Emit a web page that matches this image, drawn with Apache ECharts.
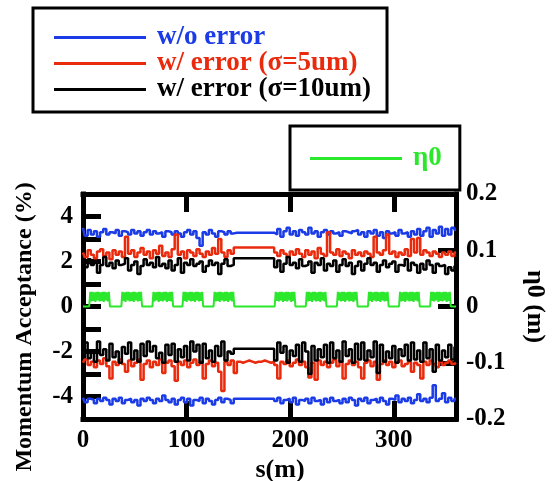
<!DOCTYPE html>
<html>
<head>
<meta charset="utf-8">
<script src="https://cdn.jsdelivr.net/npm/echarts@6/dist/echarts.min.js"></script>
<style>
html,body{margin:0;padding:0;background:#fff;}
#c{width:556px;height:481px;}
</style>
</head>
<body>
<div id="c"></div>
<script>
// sample positions s (m)
const sPos = [
  0,3,6,9,12,15,18,21,24,27,
  30,33,36,39,42,45,48,51,54,57,
  60,63,66,69,72,75,78,81,84,87,
  90,93,96,99,102,105,108,111,114,117,
  120,123,126,129,132,135,138,141,144,147,
  150,153,156,159,162,165,168,171,174,177,
  180,183,186,189,192,195,198,201,204,207,
  210,213,216,219,222,225,228,231,234,237,
  240,243,246,249,252,255,258,261,264,267,
  270,273,276,279,282,285,288,291,294,297,
  300,303,306,309,312,315,318,321,324,327,
  330,333,336,339,342,345,348,351,354,357,
  360
];
// w/o error : positive and negative momentum acceptance (%)
const noErrUpper = [
  3.50,3.15,3.40,3.20,3.35,3.10,3.30,3.45,3.20,3.30,
  3.25,3.40,3.15,3.35,3.30,3.20,3.40,3.25,3.35,3.15,
  3.30,3.40,3.20,3.35,3.25,3.30,3.10,3.35,3.30,3.20,
  3.35,3.25,3.10,3.30,3.40,3.20,3.35,3.05,2.70,3.30,
  3.20,3.40,3.25,3.10,3.35,3.30,3.20,3.35,3.25,3.28,
  3.28,3.28,3.28,3.28,3.28,3.28,3.28,3.28,3.28,3.28,
  3.28,3.28,3.20,3.45,3.10,3.35,3.50,3.20,3.35,3.15,
  3.40,3.30,3.20,3.50,3.25,3.35,3.10,3.30,3.40,3.20,
  3.35,3.25,3.30,3.15,3.35,3.30,3.25,3.35,3.40,3.20,
  3.30,3.10,3.35,3.25,3.40,3.15,3.30,3.05,3.35,3.25,
  3.30,3.15,3.40,3.25,3.30,3.10,3.35,3.20,3.45,3.15,
  3.35,3.50,3.10,3.40,3.25,3.55,3.15,3.45,3.20,3.50,
  3.40
];
const noErrLower = [
  -4.05,-4.25,-4.10,-4.15,-4.30,-4.10,-4.20,-4.05,-4.15,-4.35,
  -4.10,-4.20,-4.05,-4.30,-4.15,-4.10,-4.25,-4.15,-4.40,-4.10,
  -4.20,-4.05,-4.15,-4.30,-4.10,-4.20,-3.95,-4.15,-4.25,-4.10,
  -4.35,-4.15,-4.05,-4.25,-4.10,-4.40,-4.15,-4.20,-4.05,-4.30,
  -4.10,-4.20,-4.35,-4.15,-4.05,-4.25,-4.10,-4.15,-4.30,-4.10,
  -4.10,-4.10,-4.10,-4.10,-4.10,-4.10,-4.10,-4.10,-4.10,-4.10,
  -4.10,-4.10,-4.20,-4.05,-4.30,-4.15,-4.10,-4.25,-4.05,-4.35,
  -4.15,-4.20,-4.10,-4.30,-4.05,-4.20,-4.15,-4.35,-4.10,-4.25,
  -4.05,-4.20,-4.15,-4.30,-4.10,-4.25,-4.05,-4.15,-4.40,-4.10,
  -4.20,-4.05,-4.30,-4.15,-4.10,-4.25,-4.05,-4.20,-4.35,-4.10,
  -4.15,-3.95,-4.25,-4.10,-4.20,-4.05,-4.30,-4.15,-3.90,-4.20,
  -4.10,-4.25,-4.05,-3.50,-4.20,-4.10,-3.85,-4.25,-4.05,-4.20,
  -4.10
];
// w/ error (sigma = 5 um)
const err5Upper = [
  2.40,2.20,2.50,2.30,2.15,2.45,2.55,2.25,2.40,2.10,
  2.50,2.30,2.45,2.20,3.10,2.35,2.50,2.20,2.40,2.60,
  2.30,2.45,2.15,2.50,2.35,2.70,2.25,2.40,2.20,2.55,
  3.20,2.30,2.45,2.15,2.50,2.40,2.25,2.55,2.35,2.20,
  2.45,2.30,2.60,2.35,3.00,2.40,2.20,2.50,2.35,2.62,
  2.62,2.62,2.62,2.62,2.62,2.62,2.62,2.62,2.62,2.62,
  2.62,2.62,2.40,2.25,2.50,2.35,2.20,2.45,2.30,2.55,
  2.35,2.20,2.50,2.30,2.45,2.15,2.60,2.35,2.25,3.30,
  2.40,2.30,2.55,2.25,2.45,2.35,2.15,2.50,2.30,2.40,
  2.25,2.45,2.35,2.20,3.10,2.40,2.30,2.50,3.20,2.35,
  2.45,2.20,2.40,2.30,2.55,2.25,3.00,2.40,3.05,2.30,
  2.50,2.40,2.25,2.45,2.35,2.20,2.40,2.30,2.45,2.25,
  2.40
];
const err5Lower = [
  -2.50,-2.35,-2.60,-2.45,-2.70,-2.40,-2.55,-2.30,-2.65,-3.20,
  -2.45,-2.60,-2.35,-2.55,-2.90,-2.40,-2.65,-2.50,-2.35,-3.25,
  -2.55,-2.40,-2.70,-2.45,-2.60,-2.35,-2.95,-2.50,-2.40,-2.65,
  -3.30,-2.45,-2.60,-2.40,-2.70,-2.50,-2.35,-2.60,-2.45,-3.20,
  -2.55,-2.40,-2.65,-2.50,-2.90,-3.75,-2.45,-2.60,-2.40,-2.95,
  -2.45,-2.50,-2.45,-2.40,-2.45,-2.50,-2.45,-2.45,-2.40,-2.45,
  -2.50,-2.45,-2.60,-3.20,-2.45,-2.55,-2.40,-2.65,-2.50,-2.35,
  -2.60,-2.45,-2.70,-3.15,-2.50,-3.25,-2.40,-2.60,-2.45,-2.70,
  -2.50,-2.35,-2.65,-2.45,-3.20,-2.55,-2.40,-2.60,-2.45,-2.70,
  -3.20,-2.50,-2.40,-2.65,-2.45,-3.25,-2.55,-2.40,-2.60,-2.45,
  -2.70,-2.50,-2.40,-2.65,-2.55,-2.45,-2.90,-2.50,-2.60,-3.20,
  -2.45,-2.60,-2.40,-2.55,-2.70,-2.45,-2.60,-2.50,-2.40,-2.55,
  -2.50
];
// w/ error (sigma = 10 um)
const err10Upper = [
  1.90,1.75,2.10,1.85,2.00,1.50,1.85,2.20,1.80,1.95,
  1.70,2.05,1.85,1.90,2.15,1.60,1.85,2.00,1.45,1.80,
  2.10,1.85,1.95,1.75,2.20,1.80,1.90,1.70,2.05,1.60,
  1.85,2.15,1.50,1.95,1.85,2.10,1.80,1.90,2.00,1.55,
  1.80,2.05,1.85,1.95,1.45,1.90,2.10,1.80,1.85,2.15,
  2.15,2.15,2.15,2.15,2.15,2.15,2.15,2.15,2.15,2.15,
  2.15,2.15,1.75,2.05,1.55,1.90,2.20,1.85,1.95,1.70,
  2.10,1.80,1.85,2.00,1.50,1.95,1.85,2.15,1.60,1.90,
  1.80,2.05,1.55,1.85,2.10,1.80,1.95,1.45,1.80,2.00,
  1.60,1.90,2.15,1.85,1.95,1.55,1.85,2.05,1.75,1.90,
  2.00,1.55,1.85,1.80,2.10,1.60,1.95,1.85,1.50,1.90,
  1.65,2.05,1.85,1.50,1.90,1.80,1.85,1.45,1.75,1.60,
  1.80
];
const err10Lower = [
  -2.00,-1.60,-2.30,-1.95,-2.45,-1.55,-2.15,-1.90,-2.40,-1.65,
  -2.25,-2.00,-2.50,-1.80,-2.10,-1.60,-2.35,-1.95,-2.45,-1.65,
  -2.20,-1.55,-2.00,-1.75,-2.30,-2.05,-2.50,-1.70,-2.15,-1.65,
  -2.45,-1.90,-2.25,-1.75,-2.40,-1.55,-2.00,-1.70,-2.50,-1.65,
  -2.30,-1.95,-2.45,-1.75,-2.20,-1.55,-2.40,-2.00,-2.10,-1.88,
  -1.88,-1.88,-1.88,-1.88,-1.88,-1.88,-1.88,-1.88,-1.88,-1.88,
  -1.88,-1.88,-2.40,-1.60,-2.05,-1.75,-2.50,-1.95,-2.20,-1.70,
  -2.45,-1.60,-2.00,-3.00,-1.75,-2.40,-1.90,-2.25,-1.70,-2.50,
  -1.60,-2.30,-1.95,-2.45,-1.55,-2.20,-1.90,-2.50,-1.65,-2.35,
  -1.60,-2.40,-1.95,-2.25,-1.55,-2.95,-1.70,-2.45,-2.00,-2.30,
  -1.75,-2.50,-1.90,-2.20,-1.70,-2.40,-1.60,-2.35,-1.95,-2.45,
  -1.60,-2.30,-1.90,-2.90,-1.70,-2.40,-1.95,-2.25,-1.70,-2.35,
  -1.80
];
// eta0 (m) : [s, value]
const eta0 = [
  [0,0],
  [6,0],[7,0.026],[8,0.009],[9,0.026],[10,0.010],[11,0.025],[12,0.008],[13,0.026],[14,0.011],[15,0.026],[16,0.009],[17,0.025],[18,0.010],[19,0.026],[20,0.008],[21,0.026],[22,0.011],[23,0.025],[24,0.009],[25,0.026],[26,0],
  [37,0],[38,0.026],[39,0.010],[40,0.025],[41,0.008],[42,0.026],[43,0.011],[44,0.026],[45,0.009],[46,0.025],[47,0.010],[48,0.026],[49,0.008],[50,0.026],[51,0.011],[52,0.025],[53,0.009],[54,0.026],[55,0.010],[56,0.026],[57,0],
  [67,0],[68,0.026],[69,0.009],[70,0.025],[71,0.011],[72,0.026],[73,0.008],[74,0.026],[75,0.010],[76,0.025],[77,0.009],[78,0.026],[79,0.011],[80,0.026],[81,0.008],[82,0.025],[83,0.010],[84,0.026],[85,0.009],[86,0.026],[87,0],
  [96,0],[97,0.026],[98,0.010],[99,0.026],[100,0.008],[101,0.025],[102,0.011],[103,0.026],[104,0.009],[105,0.026],[106,0.010],[107,0.025],[108,0.008],[109,0.026],[110,0.011],[111,0.026],[112,0.009],[113,0.025],[114,0.010],[115,0.026],[116,0],
  [126,0],[127,0.026],[128,0.009],[129,0.025],[130,0.010],[131,0.026],[132,0.008],[133,0.026],[134,0.011],[135,0.025],[136,0.009],[137,0.026],[138,0.010],[139,0.026],[140,0.008],[141,0.025],[142,0.011],[143,0.026],[144,0.009],[145,0.026],[146,0],
  [185,0],[186,0.026],[187,0.010],[188,0.025],[189,0.009],[190,0.026],[191,0.011],[192,0.026],[193,0.008],[194,0.025],[195,0.010],[196,0.026],[197,0.009],[198,0.026],[199,0.011],[200,0.025],[201,0.008],[202,0.026],[203,0.010],[204,0.026],[205,0],
  [215,0],[216,0.026],[217,0.009],[218,0.026],[219,0.010],[220,0.025],[221,0.008],[222,0.026],[223,0.011],[224,0.026],[225,0.009],[226,0.025],[227,0.010],[228,0.026],[229,0.008],[230,0.026],[231,0.011],[232,0.025],[233,0.009],[234,0.026],[235,0],
  [245,0],[246,0.026],[247,0.011],[248,0.025],[249,0.009],[250,0.026],[251,0.010],[252,0.026],[253,0.008],[254,0.025],[255,0.011],[256,0.026],[257,0.009],[258,0.026],[259,0.010],[260,0.025],[261,0.008],[262,0.026],[263,0.011],[264,0.026],[265,0],
  [275,0],[276,0.026],[277,0.010],[278,0.026],[279,0.008],[280,0.025],[281,0.011],[282,0.026],[283,0.009],[284,0.026],[285,0.010],[286,0.025],[287,0.008],[288,0.026],[289,0.011],[290,0.026],[291,0.009],[292,0.025],[293,0.010],[294,0.026],[295,0],
  [305,0],[306,0.026],[307,0.009],[308,0.025],[309,0.010],[310,0.026],[311,0.008],[312,0.026],[313,0.011],[314,0.025],[315,0.009],[316,0.026],[317,0.010],[318,0.026],[319,0.008],[320,0.025],[321,0.011],[322,0.026],[323,0.009],[324,0.026],[325,0],
  [335,0],[336,0.026],[337,0.010],[338,0.026],[339,0.009],[340,0.025],[341,0.011],[342,0.026],[343,0.008],[344,0.026],[345,0.010],[346,0.025],[347,0.009],[348,0.026],[349,0.011],[350,0.026],[351,0.008],[352,0.025],[353,0.010],[354,0.026],[355,0],
  [360,0]
];
const seriesNames = ['w/o error', 'w/ error (σ=5um)', 'w/ error (σ=10um)', 'η0'];
const xTickLabels = ['0', '100', '200', '300'];
const yLeftTickLabels = ['4', '2', '0', '-2', '-4'];

const BLUE = '#1a3be6', RED = '#ea2a0c', BLACK = '#000000', GREEN = '#2ce82c';
const FONT = '"Liberation Serif", "Times New Roman", serif';

function pairs(vals) { return sPos.map((s, i) => [s, vals[i]]); }
function mkLine(name, vals, color) {
  return {
    name, type: 'line', xAxisIndex: 0, yAxisIndex: 0, data: pairs(vals),
    step: 'middle', showSymbol: false, symbol: 'none', silent: true,
    lineStyle: { color, width: 2.5 }, itemStyle: { color }
  };
}
const lblStyle = { color: '#000', fontFamily: FONT, fontWeight: 'bold', fontSize: 25 };
const axLine = { show: true, onZero: false, lineStyle: { color: '#000', width: 5, cap: 'square' } };
const axTick = { show: true, inside: true, length: 18, lineStyle: { color: '#000', width: 5 } };

const chart = echarts.init(document.getElementById('c'), null, { renderer: 'canvas' });
chart.setOption({
  animation: false,
  backgroundColor: '#fff',
  grid: { left: 83, right: 95, top: 194, bottom: 62 },
  legend: [
    {
      left: 33, top: 8, orient: 'vertical', selectedMode: false,
      data: [
        { name: seriesNames[0], textStyle: { color: BLUE } },
        { name: seriesNames[1], textStyle: { color: RED } },
        { name: seriesNames[2], textStyle: { color: BLACK } }
      ],
      icon: 'rect', itemWidth: 92, itemHeight: 3, itemGap: -1,
      padding: [16, 16, 9, 21],
      borderColor: '#000', borderWidth: 3, backgroundColor: '#fff',
      textStyle: { fontFamily: FONT, fontWeight: 'bold', fontSize: 27, lineHeight: 22, padding: [0, 0, 0, 6] }
    },
    {
      left: 290, top: 126, orient: 'vertical', selectedMode: false,
      data: [{ name: seriesNames[3], textStyle: { color: GREEN } }],
      icon: 'rect', itemWidth: 92, itemHeight: 3,
      padding: [19, 18, 18, 20],
      borderColor: '#000', borderWidth: 3, backgroundColor: '#fff',
      textStyle: { fontFamily: FONT, fontWeight: 'bold', fontSize: 27, lineHeight: 22, padding: [0, 0, 0, 6] }
    }
  ],
  xAxis: [
    {
      type: 'value', position: 'bottom', min: 0, max: 360, interval: 100,
      axisLine: axLine, axisTick: axTick, splitLine: { show: false },
      axisLabel: Object.assign({ margin: 9, formatter: v => (xTickLabels.indexOf(String(v)) >= 0 ? String(v) : '') }, lblStyle)
    },
    {
      type: 'value', position: 'top', min: 0, max: 360, interval: 100,
      axisLine: axLine, axisTick: axTick, splitLine: { show: false },
      axisLabel: { show: false }
    }
  ],
  yAxis: [
    {
      type: 'value', position: 'left', min: -5, max: 5, interval: 1,
      axisLine: axLine, axisTick: axTick, splitLine: { show: false },
      axisLabel: Object.assign({ margin: 10, formatter: v => (yLeftTickLabels.indexOf(String(v)) >= 0 ? String(v) : '') }, lblStyle)
    },
    {
      type: 'value', position: 'right', min: -0.2, max: 0.2, interval: 0.1,
      axisLine: axLine, axisTick: axTick, splitLine: { show: false },
      axisLabel: Object.assign({ margin: 10, formatter: v => String(Math.round(v * 10) / 10) }, lblStyle),
      name: 'η0 (m)', nameLocation: 'middle', nameGap: 66, nameRotate: -90,
      nameTextStyle: { color: '#000', fontFamily: FONT, fontWeight: 'bold', fontSize: 26 }
    }
  ],
  graphic: [
    {
      type: 'text', x: 25, y: 327, rotation: Math.PI / 2, silent: true,
      style: { text: 'Momentum Acceptance (%)', fill: '#000', font: 'bold 24px ' + FONT, textAlign: 'center', textVerticalAlign: 'middle' }
    },
    {
      type: 'text', x: 280, y: 470, silent: true,
      style: { text: 's(m)', fill: '#000', font: 'bold 26px ' + FONT, textAlign: 'center', textVerticalAlign: 'middle' }
    }
  ],
  series: [
    mkLine(seriesNames[0], noErrUpper, BLUE),
    mkLine(seriesNames[0], noErrLower, BLUE),
    mkLine(seriesNames[1], err5Upper, RED),
    mkLine(seriesNames[1], err5Lower, RED),
    mkLine(seriesNames[2], err10Upper, BLACK),
    mkLine(seriesNames[2], err10Lower, BLACK),
    {
      name: seriesNames[3], type: 'line', xAxisIndex: 0, yAxisIndex: 1, data: eta0,
      showSymbol: false, symbol: 'none', silent: true,
      lineStyle: { color: GREEN, width: 2 }, itemStyle: { color: GREEN }
    }
  ]
});
</script>
</body>
</html>
